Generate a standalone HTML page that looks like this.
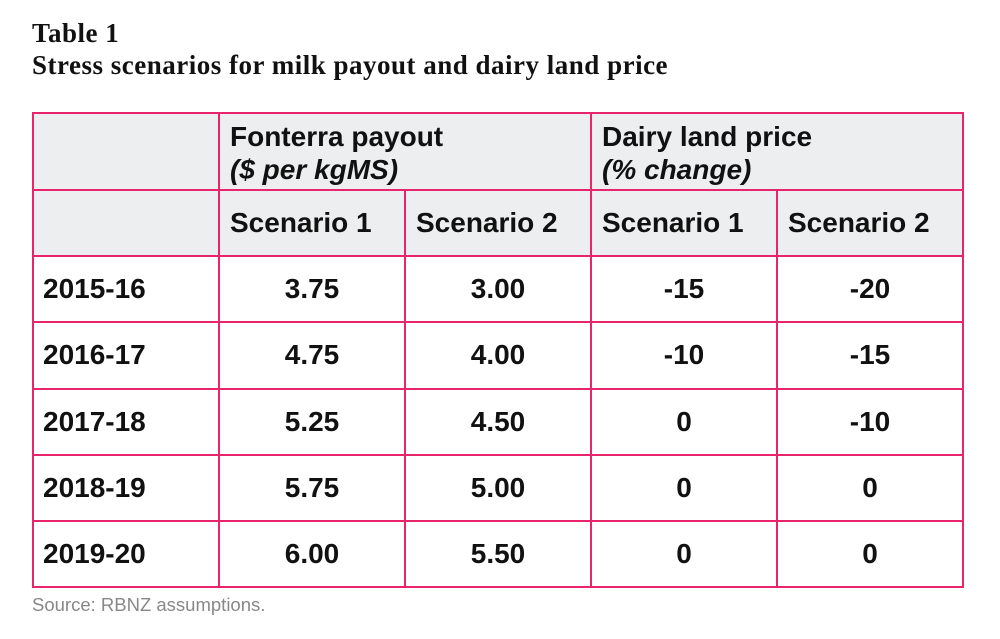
<!DOCTYPE html>
<html><head><meta charset="utf-8"><style>
body{margin:0;width:1000px;height:639px;background:#fff;position:relative;overflow:hidden;font-family:"Liberation Sans",Arial,sans-serif}
.t{position:absolute;left:32px;font-family:"Liberation Serif",serif;font-weight:bold;font-size:27px;letter-spacing:0.5px;color:#111;white-space:nowrap}
.c{position:absolute;box-sizing:border-box;font-weight:bold;font-size:28px;color:#111;display:flex;align-items:center;white-space:nowrap}
.g{background:#eceeef}
.ln{position:absolute;background:#e8246c}
.src{position:absolute;left:32px;top:594px;font-size:18.5px;color:#888}
</style></head><body>
<div class="t" style="top:18px">Table 1</div>
<div class="t" style="top:50px">Stress scenarios for milk payout and dairy land price</div>

<div class="c g" style="left:33px;top:113px;width:186px;height:143px"></div>
<div class="c g" style="left:219px;top:113px;width:372px;height:77px;padding-left:11px;line-height:33px;display:block;padding-top:7px">Fonterra payout<br><i>($ per kgMS)</i></div>
<div class="c g" style="left:591px;top:113px;width:372px;height:77px;padding-left:11px;line-height:33px;display:block;padding-top:7px">Dairy land price<br><i>(% change)</i></div>
<div class="c g" style="left:219px;top:190px;width:186px;height:66px;padding-left:11px">Scenario 1</div>
<div class="c g" style="left:405px;top:190px;width:186px;height:66px;padding-left:11px">Scenario 2</div>
<div class="c g" style="left:591px;top:190px;width:186px;height:66px;padding-left:11px">Scenario 1</div>
<div class="c g" style="left:777px;top:190px;width:186px;height:66px;padding-left:11px">Scenario 2</div>

<div id="rows"></div>

<div class="ln" style="left:32px;top:112px;width:932px;height:2px"></div>
<div class="ln" style="left:32px;top:189px;width:932px;height:2px"></div>
<div class="ln" style="left:32px;top:255px;width:932px;height:2px"></div>
<div class="ln" style="left:32px;top:321px;width:932px;height:2px"></div>
<div class="ln" style="left:32px;top:388px;width:932px;height:2px"></div>
<div class="ln" style="left:32px;top:454px;width:932px;height:2px"></div>
<div class="ln" style="left:32px;top:520px;width:932px;height:2px"></div>
<div class="ln" style="left:32px;top:586px;width:932px;height:2px"></div>
<div class="ln" style="left:32px;top:112px;width:2px;height:476px"></div>
<div class="ln" style="left:218px;top:112px;width:2px;height:476px"></div>
<div class="ln" style="left:404px;top:189px;width:2px;height:399px"></div>
<div class="ln" style="left:590px;top:112px;width:2px;height:476px"></div>
<div class="ln" style="left:776px;top:189px;width:2px;height:399px"></div>
<div class="ln" style="left:962px;top:112px;width:2px;height:476px"></div>

<div class="src">Source: RBNZ assumptions.</div>
<script>
const years=["2015-16","2016-17","2017-18","2018-19","2019-20"];
const payout1=["3.75","4.75","5.25","5.75","6.00"];
const payout2=["3.00","4.00","4.50","5.00","5.50"];
const land1=["-15","-10","0","0","0"];
const land2=["-20","-15","-10","0","0"];
const rowTops=[256,322,389,455,521];
const cont=document.getElementById('rows');
years.forEach((y,i)=>{
  const top=rowTops[i];
  const vals=[y,payout1[i],payout2[i],land1[i],land2[i]];
  const names=['year','payout-s1','payout-s2','land-s1','land-s2'];
  vals.forEach((v,j)=>{
    const d=document.createElement('div');
    d.className='c';
    
    
    d.style.left=(33+j*186)+'px';d.style.top=top+'px';
    d.style.width='186px';d.style.height='66px';
    if(j===0){d.style.paddingLeft='10px';}else{d.style.justifyContent='center';}
    d.textContent=v;
    cont.appendChild(d);
  });
});
</script>
</body></html>
